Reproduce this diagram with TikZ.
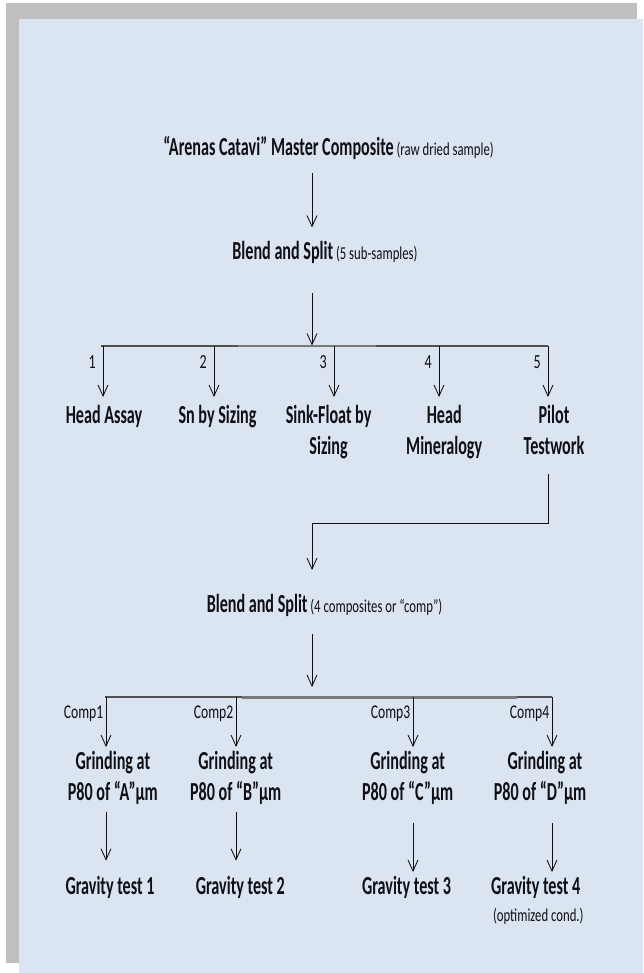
\documentclass[tikz,border=0pt]{standalone}
\usepackage{fontspec}
\usetikzlibrary{arrows.meta,calc}
\newfontfamily\bfnt{Carlito}[FakeStretch=0.62]
\newfontfamily\rfnt{Carlito}[FakeStretch=0.70]
\definecolor{bgblue}{HTML}{DBE5F1}
\definecolor{bggray}{HTML}{BFBFBF}
\definecolor{ink}{HTML}{0F0F14}
\definecolor{barcol}{HTML}{505050}
\definecolor{barlite}{HTML}{7A7A7A}
\newcommand\bigtxt{\bfnt\bfseries\fontsize{26}{31.5}\selectfont}
\newcommand\smalltxt{\rfnt\mdseries\fontsize{18.2}{21}\selectfont}
\newcommand\twoline[2]{\begin{tabular}[t]{@{}c@{}}#1\\#2\end{tabular}}
\begin{document}
\begin{tikzpicture}[x=1pt,y=-1pt,
  big/.style={font=\bigtxt, inner sep=0pt, text=ink, anchor=base},
  small/.style={font=\smalltxt, inner sep=0pt, text=ink, anchor=base},
  numlbl/.style={font=\rfnt\fontsize{20}{23}\selectfont, inner sep=0pt, text=ink, anchor=base east},
  complbl/.style={font=\rfnt\fontsize{19.5}{22}\selectfont, inner sep=0pt, text=ink, anchor=base east},
  arr/.style={draw=ink, line width=0.85pt, -{Straight Barb[length=11pt,width=10pt,line width=0.85pt]}},
  barline/.style={draw=barcol, line width=2pt},
  barlight/.style={draw=barlite, line width=2.6pt}]
\useasboundingbox (0,0) rectangle (643,973);
\fill[white] (0,0) rectangle (643,973);
\fill[bggray] (6,3) rectangle (637,963);
\fill[bgblue] (19,19) rectangle (643,973);

% spine
\coordinate (spine) at (312,0);

% top
\node[big] (title) at (328.5,156) {“Arenas Catavi” Master Composite{\smalltxt\ (raw dried sample)}};
\node[big] (blend1) at (325,260) {Blend and Split{\smalltxt\ (5 sub-samples)}};
\draw[arr] ($(spine|-title.base)+(0,17)$) -- ($(spine|-blend1.base)+(0,-32.5)$);

% first split bar
\coordinate (bar1L) at (101,345.5);
\coordinate (c1) at (103,345.5);
\coordinate (c2) at (214,345.5);
\coordinate (c3) at (334,345.5);
\coordinate (c4) at (439,345.5);
\coordinate (c5) at (548,345.5);
\coordinate (bar1a) at (238,345.8);
\coordinate (bar1b) at (376,345.8);
\draw[barline] (bar1L) -- (c5);
\draw[barlight] (bar1a) -- (bar1b);
\draw[arr] ($(spine|-blend1.base)+(0,33.3)$) -- (spine|-c1);

\node[big] (n1) at (104,423.3) {Head Assay};
\node[big] (n2) at (217.5,423.3) {Sn by Sizing};
\node[big] (n3) at (328.6,423.3) {\twoline{Sink-Float by}{Sizing}};
\node[big] (n4) at (444.2,423.3) {\twoline{Head}{Mineralogy}};
\node[big] (n5) at (554,423.3) {\twoline{Pilot}{Testwork}};

\foreach \i in {1,...,5}{
  \draw[arr] (c\i) -- ($(c\i|-n\i.base)+(0,-26.3)$);
  \node[numlbl] (k\i) at ($(c\i)+(-7,22.8)$) {\i};
}

% pilot testwork to second blend
\coordinate (j1) at (312,523.3);
\node[big] (blend2) at (324.5,612.5) {Blend and Split{\smalltxt\ (4 composites or “comp”)}};
\draw[arr] ($(c5|-n5.base)+(0,50.7)$) |- (j1) -- ($(spine|-blend2.base)+(0,-42.5)$);

% second split bar
\coordinate (bar2L) at (105,697);
\coordinate (d1) at (106,697);
\coordinate (d2) at (236,697);
\coordinate (d3) at (413,697);
\coordinate (d4) at (552,697);
\coordinate (bar2a) at (242,697.3);
\coordinate (bar2b) at (517,697.3);
\draw[barline] (bar2L) -- (d4);
\draw[barlight] (bar2a) -- (bar2b);
\draw[arr] ($(spine|-blend2.base)+(0,21.5)$) -- ($(spine|-d1)+(0,-10)$);

\node[big] (g1) at (112.8,769.3) {\twoline{Grinding at}{P80 of “A”µm}};
\node[big] (g2) at (235.7,769.3) {\twoline{Grinding at}{P80 of “B”µm}};
\node[big] (g3) at (407.7,769.3) {\twoline{Grinding at}{P80 of “C”µm}};
\node[big] (g4) at (540,769.3) {\twoline{\hspace*{10pt}Grinding at}{P80 of “D”µm}};

\foreach \i in {1,...,4}{
  \draw[arr] (d\i) -- ($(d\i|-g\i.base)+(0,-22.3)$);
  \node[complbl] (m\i) at ($(d\i)+(-2.5,21)$) {Comp\i};
}

\node[big] (r1) at (110,894.3) {Gravity test 1};
\node[big] (r2) at (240.3,894.3) {Gravity test 2};
\node[big] (r3) at (406.5,894.5) {Gravity test 3};
\node[big] (r4) at (535.7,894.5) {Gravity test 4};
\node[small] (opt) at (538.3,921.5) {(optimized cond.)};

\draw[arr] ($(d1|-g1.base)+(0,42.4)$) -- ($(d1|-r1.base)+(0,-33.6)$);
\draw[arr] ($(d2|-g2.base)+(0,42.4)$) -- ($(d2|-r2.base)+(0,-33.6)$);
\draw[arr] ($(d3|-g3.base)+(0,53.4)$) -- ($(d3|-r3.base)+(0,-22.5)$);
\draw[arr] ($(d4|-g4.base)+(0,53.4)$) -- ($(d4|-r4.base)+(0,-22.5)$);
\end{tikzpicture}
\end{document}
